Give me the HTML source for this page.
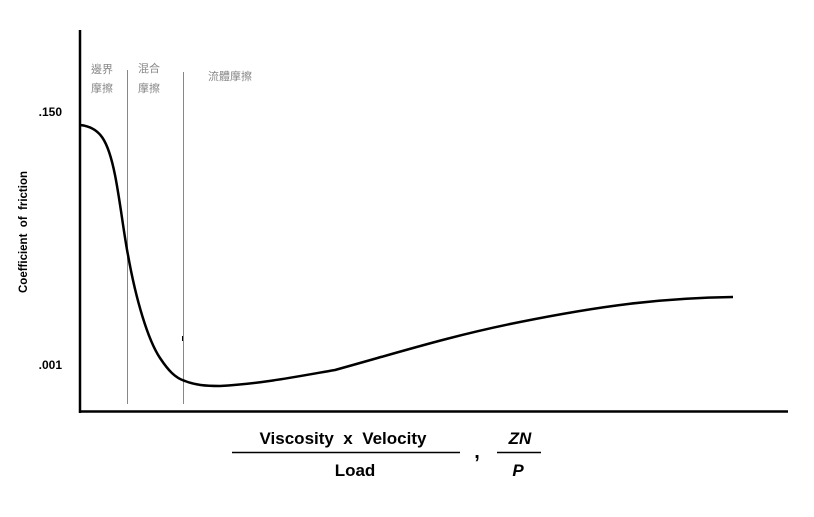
<!DOCTYPE html>
<html><head><meta charset="utf-8"><style>
body{margin:0;background:#fff;width:814px;height:512px;overflow:hidden}
text{white-space:pre}
</style></head><body>
<svg width="814" height="512" xmlns="http://www.w3.org/2000/svg" font-family="Liberation Sans, Arial, sans-serif">
<line x1="80" y1="30" x2="80" y2="413" stroke="#000" stroke-width="2.5"/>
<line x1="79" y1="411.5" x2="788" y2="411.5" stroke="#000" stroke-width="2.5"/>
<line x1="127.5" y1="70" x2="127.5" y2="404" stroke="#888" stroke-width="1"/>
<line x1="183.5" y1="72" x2="183.5" y2="404" stroke="#888" stroke-width="1"/>
<line x1="182.5" y1="336" x2="182.5" y2="341" stroke="#000" stroke-width="1"/>
<path d="M80,125 C100,127 108,140 115,175 C120,200 124,235 128,255 C136,300 148,340 160,358 C168,370 175,378 185,381 C195,385 205,386 220,386 C260,384 300,376 335,370 C400,352 450,336 520,322 C600,306 660,298 733,297" fill="none" stroke="#000" stroke-width="2.5"/>
<g font-family="Liberation Sans, Noto Sans CJK TC, sans-serif" font-size="11" fill="#888">
<text x="91" y="73">邊界</text><text x="91" y="92">摩擦</text>
<text x="138" y="72">混合</text><text x="138" y="92">摩擦</text>
<text x="208" y="80">流體摩擦</text>
</g>
<g font-weight="bold" font-size="12" fill="#000">
<text x="62" y="116" text-anchor="end">.150</text>
<text x="62" y="369" text-anchor="end">.001</text>
<text transform="translate(27,232) rotate(-90)" text-anchor="middle" font-size="11.5">Coefficient  of  friction</text>
</g>
<g font-weight="bold" font-size="17" fill="#000">
<text x="343" y="444" text-anchor="middle">Viscosity  x  Velocity</text>
<line x1="232" y1="452.5" x2="460" y2="452.5" stroke="#000" stroke-width="1.5"/>
<text x="355" y="476" text-anchor="middle">Load</text>
<text x="477" y="458" text-anchor="middle" font-size="20">,</text>
<text x="520" y="444" text-anchor="middle" font-style="italic">ZN</text>
<line x1="497" y1="452.5" x2="541" y2="452.5" stroke="#000" stroke-width="1.5"/>
<text x="518" y="476" text-anchor="middle" font-style="italic">P</text>
</g>
</svg>
</body></html>
